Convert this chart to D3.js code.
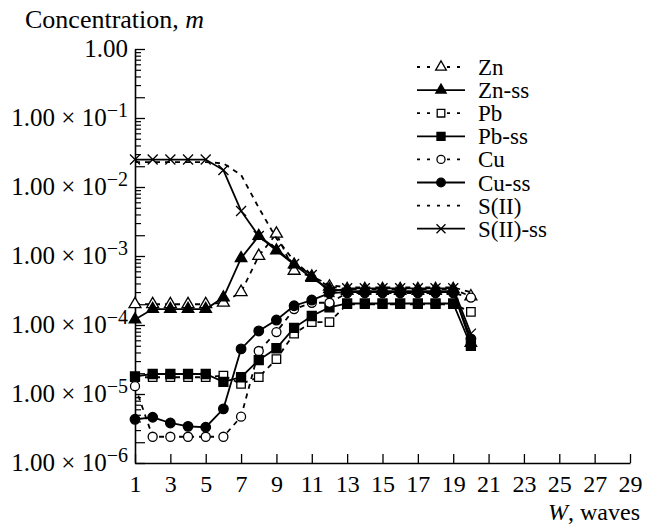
<!DOCTYPE html>
<html><head><meta charset="utf-8">
<script src="https://cdnjs.cloudflare.com/ajax/libs/d3/7.8.5/d3.min.js"></script>
<style>
body{margin:0;background:#fff;}
svg text{font-family:"Liberation Serif","Times New Roman",serif !important;fill:#000;}
</style></head>
<body><svg id="chart" width="646" height="529" font-family="Liberation Serif, Times New Roman, serif"></svg>
<script>
const waves = [1,2,3,4,5,6,7,8,9,10,11,12,13,14,15,16,17,18,19,20];
const zn    = [2.0e-4,2.0e-4,2.0e-4,2.0e-4,2.0e-4,2.1e-4,3.0e-4,1.0e-3,2.1e-3,6.1e-4,5.0e-4,3.6e-4,3.3e-4,3.3e-4,3.3e-4,3.3e-4,3.3e-4,3.3e-4,3.3e-4,2.6e-4];
const znSS  = [1.2e-4,1.7e-4,1.7e-4,1.7e-4,1.7e-4,2.5e-4,9.3e-4,1.95e-3,1.2e-3,7.5e-4,4.8e-4,3.3e-4,3.1e-4,3.1e-4,3.1e-4,3.1e-4,3.1e-4,3.1e-4,3.1e-4,5.5e-5];
const pb    = [1.75e-5,1.75e-5,1.75e-5,1.75e-5,1.75e-5,1.85e-5,1.4e-5,1.75e-5,3.2e-5,7.5e-5,1.1e-4,1.1e-4,2.0e-4,2.0e-4,2.0e-4,2.0e-4,2.0e-4,2.0e-4,2.0e-4,1.55e-4];
const pbSS  = [1.8e-5,1.95e-5,1.95e-5,1.95e-5,1.95e-5,1.5e-5,1.75e-5,3.1e-5,4.6e-5,9.1e-5,1.35e-4,1.8e-4,2.05e-4,2.05e-4,2.05e-4,2.05e-4,2.05e-4,2.05e-4,2.05e-4,5.0e-5];
const cu    = [1.3e-5,2.4e-6,2.4e-6,2.4e-6,2.4e-6,2.4e-6,4.7e-6,4.2e-5,7.9e-5,1.7e-4,2.1e-4,2.1e-4,2.9e-4,2.9e-4,2.9e-4,2.9e-4,2.9e-4,2.9e-4,2.9e-4,2.5e-4];
const cuSS  = [4.3e-6,4.6e-6,3.8e-6,3.4e-6,3.3e-6,6.1e-6,4.5e-5,8.2e-5,1.18e-4,1.9e-4,2.3e-4,2.9e-4,3.0e-4,3.0e-4,3.0e-4,3.0e-4,3.0e-4,3.0e-4,3.0e-4,6.3e-5];
const s2    = [2.3e-2,2.3e-2,2.3e-2,2.3e-2,2.3e-2,2.2e-2,1.5e-2,5.0e-3,1.8e-3,8.5e-4,5.1e-4,3.8e-4,3.5e-4,3.5e-4,3.5e-4,3.5e-4,3.5e-4,3.5e-4,3.5e-4,3.0e-4];
const s2SS  = [2.5e-2,2.5e-2,2.5e-2,2.5e-2,2.5e-2,1.76e-2,4.5e-3,1.95e-3,1.26e-3,7.65e-4,5.3e-4,3.0e-4,3.4e-4,3.4e-4,3.4e-4,3.4e-4,3.4e-4,3.4e-4,3.4e-4,7.5e-5];

const seriesNames = ["Zn","Zn-ss","Pb","Pb-ss","Cu","Cu-ss","S(II)","S(II)-ss"];
const xTickValues = [1,3,5,7,9,11,13,15,17,19,21,23,25,27,29];
const yMajorValues = [1,1e-1,1e-2,1e-3,1e-4,1e-5,1e-6];
const yLabelBase = ["1.00","1.00 × 10","1.00 × 10","1.00 × 10","1.00 × 10","1.00 × 10","1.00 × 10"];
const yLabelExp  = ["","−1","−2","−3","−4","−5","−6"];
const yTitle = "Concentration, ";
const yTitleVar = "m";
const xTitleVar = "W";
const xTitle = ", waves";

const svg = d3.select("#chart");
const x = d3.scaleLinear().domain([1,29]).range([135,630]);
const y = d3.scaleLog().domain([1e-6,1]).range([463,49]);

const minor = [], mid = [];
for (let e=-6; e<0; e++) for (let m=2; m<=9; m++) { (m===2?mid:minor).push(m*Math.pow(10,e)); }

const yAxis = svg.append("g").attr("transform","translate(135,0)");
yAxis.call(d3.axisLeft(y).tickValues(yMajorValues).tickSizeInner(-10).tickSizeOuter(0).tickFormat(""));
yAxis.select(".domain").attr("stroke-width",1.6);
yAxis.selectAll(".tick line").attr("stroke-width",1.3);
const yMinor = svg.append("g").attr("transform","translate(135,0)");
yMinor.call(d3.axisLeft(y).tickValues(minor).tickSizeInner(-6).tickSizeOuter(0).tickFormat(""));
yMinor.select(".domain").remove();
yMinor.selectAll(".tick line").attr("stroke-width",1.2);
const yMid = svg.append("g").attr("transform","translate(135,0)");
yMid.call(d3.axisLeft(y).tickValues(mid).tickSizeInner(-10).tickSizeOuter(0).tickFormat(""));
yMid.select(".domain").remove();
yMid.selectAll(".tick line").attr("stroke-width",1.2);

yMajorValues.forEach((v,i)=>{
  const t = svg.append("text").attr("x",128).attr("y",y(v)+8).attr("text-anchor","end").style("font-size","25px");
  t.append("tspan").text(yLabelBase[i]);
  if (yLabelExp[i]) t.append("tspan").attr("dy",-9).style("font-size","20px").text(yLabelExp[i]);
});

const xAxis = svg.append("g").attr("transform","translate(0,463)");
xAxis.call(d3.axisBottom(x).tickValues(xTickValues).tickSizeInner(-9).tickSizeOuter(0));
xAxis.attr("font-family",null);
xAxis.select(".domain").attr("stroke-width",1.6);
xAxis.selectAll(".tick line").attr("stroke-width",1.3);
xAxis.selectAll(".tick text").attr("y",29).attr("dy",0).style("font-size","24px");

const yt = svg.append("text").attr("x",25).attr("y",28).style("font-size","26px");
yt.append("tspan").text(yTitle);
yt.append("tspan").style("font-style","italic").text(yTitleVar);
const xt = svg.append("text").attr("x",640).attr("y",520).attr("text-anchor","end").style("font-size","24px");
xt.append("tspan").style("font-style","italic").text(xTitleVar);
xt.append("tspan").text(xTitle);

const crossType = {draw(ctx,size){const r=Math.sqrt(size)/2; ctx.moveTo(-r,-r);ctx.lineTo(r,r);ctx.moveTo(r,-r);ctx.lineTo(-r,r);}};
const styles = [
  {vals:zn,   dash:true,  type:d3.symbolTriangle, size:62, fill:"#fff"},
  {vals:znSS, dash:false, type:d3.symbolTriangle, size:58, fill:"#000"},
  {vals:pb,   dash:true,  type:d3.symbolSquare,   size:72, fill:"#fff"},
  {vals:pbSS, dash:false, type:d3.symbolSquare,   size:81, fill:"#000"},
  {vals:cu,   dash:true,  type:d3.symbolCircle,   size:64, fill:"#fff"},
  {vals:cuSS, dash:false, type:d3.symbolCircle,   size:72, fill:"#000"},
  {vals:s2,   dash:true,  type:null,              size:0,  fill:"none"},
  {vals:s2SS, dash:false, type:crossType,         size:100,fill:"none"}
];

const line = d3.line().x(d=>x(d[0])).y(d=>y(d[1]));
const plot = svg.append("g");
styles.forEach((s,i)=>{
  const pts = waves.map((w,j)=>[w,s.vals[j]]);
  plot.append("path").attr("d",line(pts)).attr("fill","none").attr("stroke","#000")
    .attr("stroke-width",1.8).attr("stroke-dasharray",s.dash?"5,5":null);
  if (s.type) {
    plot.selectAll(null).data(pts).enter().append("path")
      .attr("d",d3.symbol().type(s.type).size(s.size)())
      .attr("transform",d=>`translate(${x(d[0])},${y(d[1])})`)
      .attr("fill",s.fill).attr("stroke","#000").attr("stroke-width",1.3);
  }
});

const lg = svg.append("g");
styles.forEach((s,i)=>{
  const cy = 67 + i*23.1;
  lg.append("line").attr("x1",417).attr("x2",465).attr("y1",cy).attr("y2",cy)
    .attr("stroke","#000").attr("stroke-width",1.8).attr("stroke-dasharray",s.dash?"3,7":null);
  if (s.type) lg.append("path").attr("d",d3.symbol().type(s.type).size(s.size*0.8)())
    .attr("transform",`translate(441,${cy})`).attr("fill",s.fill).attr("stroke","#000").attr("stroke-width",1.3);
  lg.append("text").attr("x",478).attr("y",cy+8).style("font-size","23px").text(seriesNames[i]);
});
</script></body></html>
